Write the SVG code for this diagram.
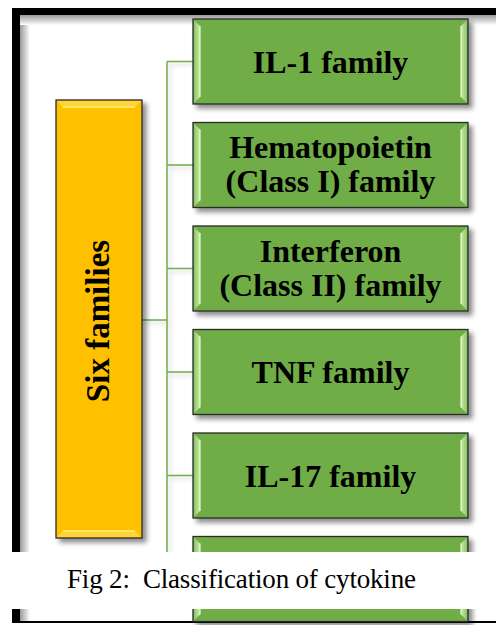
<svg xmlns="http://www.w3.org/2000/svg" xmlns:xlink="http://www.w3.org/1999/xlink" width="496" height="625" viewBox="0 0 496 625">
<defs>
  <filter id="sh" x="-10%" y="-10%" width="130%" height="130%">
    <feDropShadow dx="4" dy="4" stdDeviation="2.5" flood-color="#000" flood-opacity="0.45"/>
  </filter>
  <filter id="lsh" x="-20%" y="-20%" width="140%" height="140%">
    <feDropShadow dx="3" dy="3" stdDeviation="2" flood-color="#000" flood-opacity="0.18"/>
  </filter>
  <linearGradient id="fl" x1="0" y1="0" x2="1" y2="0">
    <stop offset="0" stop-color="#9a9a9a"/>
    <stop offset="1" stop-color="#ffffff"/>
  </linearGradient>
  <linearGradient id="ft" x1="0" y1="0" x2="0" y2="1">
    <stop offset="0" stop-color="#9a9a9a"/>
    <stop offset="1" stop-color="#ffffff"/>
  </linearGradient>
  <linearGradient id="bl" x1="0" y1="0" x2="1" y2="0">
    <stop offset="0" stop-color="#8cc466"/>
    <stop offset="1" stop-color="#c9ecaa"/>
  </linearGradient>
  <linearGradient id="br" x1="1" y1="0" x2="0" y2="0">
    <stop offset="0" stop-color="#8cc466"/>
    <stop offset="1" stop-color="#c9ecaa"/>
  </linearGradient>
  <g id="gbev">
    <polygon points="1,1 7,7 7,78 1,84" fill="url(#bl)"/>
    <polygon points="274,1 268,7 268,78 274,84" fill="url(#br)"/>
    <line x1="7" y1="7" x2="7" y2="78" stroke="#e6fcd0" stroke-width="1.2"/>
    <line x1="268" y1="7" x2="268" y2="78" stroke="#e6fcd0" stroke-width="1.2"/>
  </g>
</defs>
<style>
  .box{fill:#70AD47;stroke:#2b2b2b;stroke-width:1.3}
  .lbl{font-family:"Liberation Serif","Times New Roman",serif;font-weight:bold;font-size:32px;text-anchor:middle;fill:#000}
  .conn{stroke:#70AD47;stroke-width:1.5;fill:none}
  .cap{font-family:"Liberation Serif","Times New Roman",serif;font-size:27px;fill:#000;white-space:pre}
</style>
<rect width="496" height="625" fill="#fff"/>
<g id="frame">
  <rect x="20" y="15" width="10" height="608" fill="url(#fl)"/>
  <rect x="20" y="15" width="476" height="10" fill="url(#ft)"/>
  <rect x="12" y="8" width="8" height="615" fill="#000"/>
  <rect x="12" y="8" width="484" height="7" fill="#000"/>
  <rect x="12" y="621" width="484" height="2" fill="#000"/>
</g>
<g id="connectors" filter="url(#lsh)">
  <line class="conn" x1="167" y1="61.5" x2="167" y2="579"/>
  <line class="conn" x1="167" y1="61.5" x2="193" y2="61.5"/>
  <line class="conn" x1="167" y1="165" x2="193" y2="165"/>
  <line class="conn" x1="167" y1="268.5" x2="193" y2="268.5"/>
  <line class="conn" x1="167" y1="372" x2="193" y2="372"/>
  <line class="conn" x1="167" y1="475.5" x2="193" y2="475.5"/>
  <line class="conn" x1="167" y1="579" x2="193" y2="579"/>
  <line class="conn" x1="142" y1="320" x2="167" y2="320"/>
</g>
<g id="six-families">
  <rect x="56" y="100" width="86" height="438" fill="#FFC000" stroke="#2b2b2b" stroke-width="1.3" filter="url(#sh)"/>
  <polygon points="57,101 141,101 135,107 63,107" fill="#ffd33a"/>
  <line x1="63" y1="107" x2="135" y2="107" stroke="#fff27a" stroke-width="1.5"/>
  <polygon points="57,537 141,537 135,531 63,531" fill="#ffd33a"/>
  <line x1="63" y1="531" x2="135" y2="531" stroke="#fff27a" stroke-width="1.5"/>
  <text class="lbl" transform="translate(109,321) rotate(-90)" style="font-size:33px">Six families</text>
</g>
<g id="il1" transform="translate(193,19)">
  <rect class="box" width="275" height="85" filter="url(#sh)"/>
  <use xlink:href="#gbev"/>
  <text class="lbl" x="137.5" y="53.5">IL-1 family</text>
</g>
<g id="hematopoietin" transform="translate(193,122.5)">
  <rect class="box" width="275" height="85" filter="url(#sh)"/>
  <use xlink:href="#gbev"/>
  <text class="lbl" x="137.5" y="35.5">Hematopoietin</text>
  <text class="lbl" x="137.5" y="69.5">(Class I) family</text>
</g>
<g id="interferon" transform="translate(193,226)">
  <rect class="box" width="275" height="85" filter="url(#sh)"/>
  <use xlink:href="#gbev"/>
  <text class="lbl" x="137.5" y="35.5">Interferon</text>
  <text class="lbl" x="137.5" y="69.5">(Class II) family</text>
</g>
<g id="tnf" transform="translate(193,329.5)">
  <rect class="box" width="275" height="85" filter="url(#sh)"/>
  <use xlink:href="#gbev"/>
  <text class="lbl" x="137.5" y="53.5">TNF family</text>
</g>
<g id="il17" transform="translate(193,433)">
  <rect class="box" width="275" height="85" filter="url(#sh)"/>
  <use xlink:href="#gbev"/>
  <text class="lbl" x="137.5" y="53.5">IL-17 family</text>
</g>
<g id="sixth" transform="translate(193,536.5)">
  <rect class="box" width="275" height="85" filter="url(#sh)"/>
  <use xlink:href="#gbev"/>
</g>
<g id="caption">
  <rect x="12" y="552" width="484" height="57" fill="#fff"/>
  <text class="cap" x="67" y="588" textLength="349" lengthAdjust="spacing">Fig 2:  Classification of cytokine</text>
</g>
</svg>
